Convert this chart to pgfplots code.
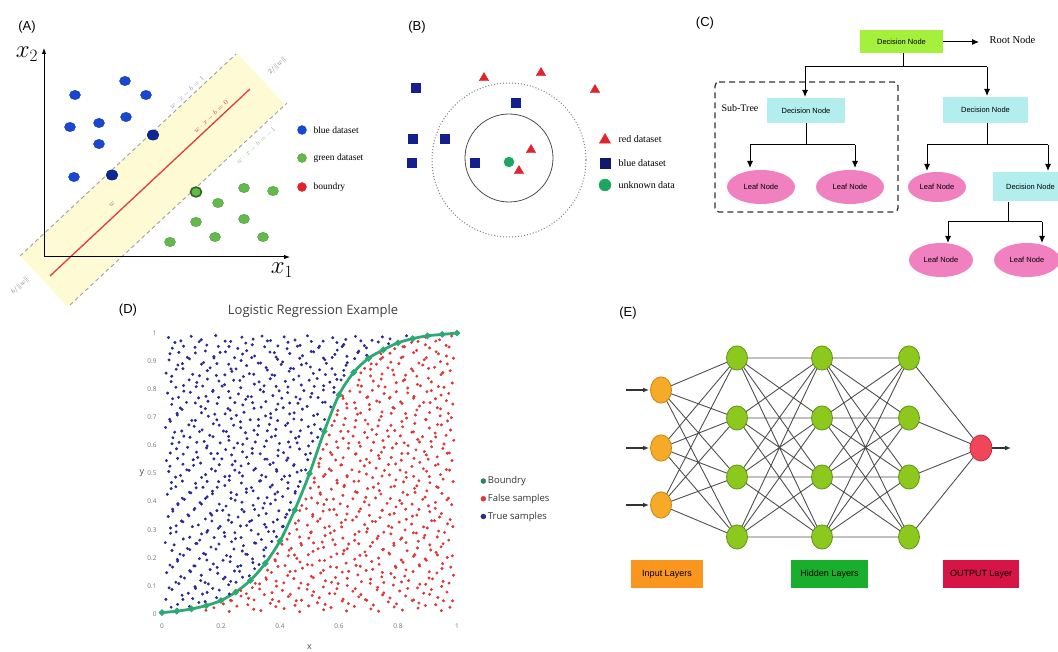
\documentclass[border=0pt]{standalone}
\usepackage{pgfplots}
\pgfplotsset{compat=1.18}
\usepackage{fontspec}
\setmainfont{Liberation Sans}
\newfontfamily\serifA{Liberation Serif}
\newfontfamily\osans{Open Sans}
\usetikzlibrary{arrows.meta,shapes.geometric}
\newcommand{\fs}[1]{\fontsize{#1}{#1}\selectfont}
\definecolor{blueA}{RGB}{25,70,210}
\definecolor{blueAd}{RGB}{15,40,150}
\definecolor{greenA}{RGB}{100,185,75}
\definecolor{greenAd}{RGB}{40,100,30}
\definecolor{redA}{RGB}{225,60,60}
\definecolor{bandY}{RGB}{253,250,212}
\definecolor{navyB}{RGB}{20,30,140}
\definecolor{redB}{RGB}{225,35,45}
\definecolor{greenB}{RGB}{30,165,95}
\definecolor{limeC}{RGB}{165,240,60}
\definecolor{cyanC}{RGB}{178,238,238}
\definecolor{pinkC}{RGB}{240,128,192}
\definecolor{orgE}{RGB}{245,170,40}
\definecolor{orgEd}{RGB}{205,130,20}
\definecolor{grnE}{RGB}{140,200,30}
\definecolor{grnEd}{RGB}{95,150,20}
\definecolor{redE}{RGB}{240,70,90}
\definecolor{redEd}{RGB}{200,40,60}
\definecolor{inBox}{RGB}{250,150,30}
\definecolor{hidBox}{RGB}{25,175,45}
\definecolor{outBox}{RGB}{215,20,70}
\definecolor{blueD}{RGB}{40,40,150}
\definecolor{redD}{RGB}{220,55,55}
\definecolor{greenD}{RGB}{45,170,115}
\definecolor{edgeE}{RGB}{80,80,80}
\begin{document}
\begin{tikzpicture}
%================ overlay axis in pixel coordinates =================
\begin{axis}[at={(0pt,0pt)}, anchor=south west, width=1058pt, height=652pt,
  scale only axis, xmin=0, xmax=1058, ymin=0, ymax=652, y dir=reverse,
  hide axis, clip=false, enlargelimits=false]
% ---------- panel labels
\node[font=\fs{13}] at (axis cs:27,27) {(A)};
\node[font=\fs{13}] at (axis cs:417,27) {(B)};
\node[font=\fs{13}] at (axis cs:705,23) {(C)};
\node[font=\fs{13}] at (axis cs:128,310) {(D)};
\node[font=\fs{13}] at (axis cs:628,313) {(E)};
% ---------- panel A
\addplot[fill=bandY, draw=none] coordinates {(20.3,255.9) (237.1,53.2) (284.9,104.4) (68.1,307.1)} -- cycle;
\addplot[gray!75, dash pattern=on 4pt off 3pt, line width=0.9pt] coordinates {(20,256) (236,54)};
\addplot[gray!75, dash pattern=on 4pt off 3pt, line width=0.9pt] coordinates {(70,305) (287,103)};
\addplot[redA, line width=1.3pt] coordinates {(50,276) (250,89)};
\addplot[black, line width=1pt, -{Latex[length=6pt]}] coordinates {(44,257) (44,48)};
\addplot[black, line width=1pt, -{Latex[length=6pt]}] coordinates {(44,257) (290,257)};
\node[font=\fs{24}] at (axis cs:27,54) {$x_2$};
\node[font=\fs{24}] at (axis cs:282,270) {$x_1$};
\node[rotate=43, font=\fs{7.5}, inner sep=0pt, text={rgb,255:red,140;green,150;blue,200}] at (axis cs:187,93) {$w\cdot x-b=1$};
\node[rotate=43, font=\fs{7.5}, inner sep=0pt, text=redA] at (axis cs:211,117) {$w\cdot x-b=0$};
\node[rotate=43, font=\fs{7.5}, inner sep=0pt, text={rgb,255:red,140;green,190;blue,140}] at (axis cs:256,146) {$w\cdot x-b=-1$};
\node[rotate=43, font=\fs{7}, inner sep=0pt, text=gray] at (axis cs:277,66) {$2/\|w\|$};
\node[rotate=43, font=\fs{7}, inner sep=0pt, text=gray] at (axis cs:20,286) {$b/\|w\|$};
\node[rotate=43, font=\fs{7}, inner sep=0pt, text=gray] at (axis cs:112,204) {$w$};
\addplot[only marks, mark=*, mark size=5.5pt, mark options={fill=blueA, draw=blueA!80!black, yscale=0.85}]
  coordinates {(125,81)(75,95)(146,95)(70,127)(99,123)(126,117)(99,144)(74,177)};
\addplot[only marks, mark=*, mark size=6pt, mark options={fill=blueAd, draw=blueAd!70!black, yscale=0.85}]
  coordinates {(153,135)(112,175)};
\addplot[only marks, mark=*, mark size=5.5pt, mark options={fill=greenA, draw=greenA!80!black, yscale=0.85}]
  coordinates {(244,188)(273,191)(218,203)(196,222)(244,219)(170,242)(215,237)(263,237)};
\addplot[only marks, mark=*, mark size=5.5pt, mark options={fill=greenA, draw=greenAd, line width=1.5pt, yscale=0.9}]
  coordinates {(196,192)};
\addplot[only marks, mark=*, mark size=4.5pt, mark options={fill=blueA, draw=blueA}] coordinates {(302,130)};
\addplot[only marks, mark=*, mark size=4.5pt, mark options={fill=greenA, draw=greenA!80!black}] coordinates {(302,158)};
\addplot[only marks, mark=*, mark size=4.5pt, mark options={fill=redB, draw=redB}] coordinates {(302,187)};
\node[anchor=west, font=\serifA\fs{9.5}] at (axis cs:310,130) {blue dataset};
\node[anchor=west, font=\serifA\fs{9.5}] at (axis cs:310,158) {green dataset};
\node[anchor=west, font=\serifA\fs{9.5}] at (axis cs:310,187) {boundry};
% ---------- panel B
\draw[gray!60!black, line width=0.8pt] (axis cs:509,158) circle [radius=44pt];
\draw[gray, dotted, line width=1pt] (axis cs:509,160) circle [radius=77pt];
\addplot[only marks, mark=triangle*, mark size=5.5pt, color=redB] coordinates {(484,78)(541,73)(595,90)(531,150)(519,171)};
\addplot[only marks, mark=square*, mark size=4.5pt, color=navyB] coordinates {(416,88)(516,103)(413,139)(445,139)(412,163)(475,163)};
\addplot[only marks, mark=*, mark size=5pt, color=greenB] coordinates {(509,162)};
\addplot[only marks, mark=triangle*, mark size=6.5pt, color=redB] coordinates {(605,140)};
\addplot[only marks, mark=square*, mark size=5pt, color=navyB!80!black] coordinates {(605,163)};
\addplot[only marks, mark=*, mark size=6pt, color=greenB] coordinates {(605,185)};
\node[anchor=west, font=\serifA\fs{10}] at (axis cs:615,139) {red dataset};
\node[anchor=west, font=\serifA\fs{10}] at (axis cs:615,163) {blue dataset};
\node[anchor=west, font=\serifA\fs{10}] at (axis cs:615,185) {unknown data};
% ---------- panel C
\addplot[black!80, dash pattern=on 6pt off 4pt, line width=1.3pt, rounded corners=4pt] coordinates {(715,82)(898,82)(898,212)(715,212)} -- cycle;
\addplot[black, line width=1pt] coordinates {(903,53) (903,67)};
\addplot[black, line width=1pt] coordinates {(805,67) (987,67)};
\addplot[black, line width=1pt, -{Latex[length=7pt,width=6pt]}] coordinates {(805,67) (805,97)};
\addplot[black, line width=1pt, -{Latex[length=7pt,width=6pt]}] coordinates {(987,67) (987,96)};
\addplot[black, line width=1pt, -{Latex[length=7pt,width=6pt]}] coordinates {(943,42) (979,42)};
\addplot[black, line width=1pt] coordinates {(806,123) (806,145)};
\addplot[black, line width=1pt] coordinates {(750,145) (855,145)};
\addplot[black, line width=1pt, -{Latex[length=7pt,width=6pt]}] coordinates {(750,145) (750,168)};
\addplot[black, line width=1pt, -{Latex[length=7pt,width=6pt]}] coordinates {(855,145) (855,168)};
\addplot[black, line width=1pt] coordinates {(987,123) (987,145)};
\addplot[black, line width=1pt] coordinates {(927,145) (1048,145)};
\addplot[black, line width=1pt, -{Latex[length=7pt,width=6pt]}] coordinates {(927,145) (927,171)};
\addplot[black, line width=1pt, -{Latex[length=7pt,width=6pt]}] coordinates {(1048,145) (1048,171)};
\addplot[black, line width=1pt] coordinates {(1008,202) (1008,222)};
\addplot[black, line width=1pt] coordinates {(948,222) (1042,222)};
\addplot[black, line width=1pt, -{Latex[length=7pt,width=6pt]}] coordinates {(948,222) (948,243)};
\addplot[black, line width=1pt, -{Latex[length=7pt,width=6pt]}] coordinates {(1042,222) (1042,243)};
\node[fill=limeC, minimum width=83pt, minimum height=23pt, inner sep=0pt, font=\fs{7.5}] at (axis cs:901.5,41.5) {Decision Node};
\node[anchor=west, font=\serifA\fs{10.5}] at (axis cs:986,40) {Root Node};
\node[fill=cyanC, minimum width=78pt, minimum height=25pt, inner sep=0pt, font=\fs{7.5}] at (axis cs:806,110.5) {Decision Node};
\node[fill=cyanC, minimum width=85pt, minimum height=26pt, inner sep=0pt, font=\fs{7.5}] at (axis cs:985.5,110) {Decision Node};
\node[fill=cyanC, minimum width=75pt, minimum height=29pt, inner sep=0pt, font=\fs{7.5}] at (axis cs:1030.5,187) {Decision Node};
\node[font=\serifA\fs{10}] at (axis cs:740,108) {Sub-Tree};
\node[ellipse, fill=pinkC, minimum width=68pt, minimum height=34pt, inner sep=0pt, font=\fs{7.5}] at (axis cs:761,187) {Leaf Node};
\node[ellipse, fill=pinkC, minimum width=68pt, minimum height=34pt, inner sep=0pt, font=\fs{7.5}] at (axis cs:850,187) {Leaf Node};
\node[ellipse, fill=pinkC, minimum width=58pt, minimum height=30pt, inner sep=0pt, font=\fs{7.5}] at (axis cs:937,187) {Leaf Node};
\node[ellipse, fill=pinkC, minimum width=64pt, minimum height=34pt, inner sep=0pt, font=\fs{7.5}] at (axis cs:941,260) {Leaf Node};
\node[ellipse, fill=pinkC, minimum width=66pt, minimum height=34pt, inner sep=0pt, font=\fs{7.5}] at (axis cs:1027,260) {Leaf Node};
% ---------- panel E
\addplot[edgeE, line width=0.9pt, line join=round] coordinates {
 (661,390)(737,358)(661,390)(737,418)(661,390)(737,477)(661,390)(737,537)
 (661,448)(737,358)(661,448)(737,418)(661,448)(737,477)(661,448)(737,537)
 (661,505)(737,358)(661,505)(737,418)(661,505)(737,477)(661,505)(737,537)};
\addplot[edgeE, line width=0.9pt, line join=round] coordinates {
 (737,358)(822,358)(737,358)(822,418)(737,358)(822,477)(737,358)(822,537)
 (737,418)(822,358)(737,418)(822,418)(737,418)(822,477)(737,418)(822,537)
 (737,477)(822,358)(737,477)(822,418)(737,477)(822,477)(737,477)(822,537)
 (737,537)(822,358)(737,537)(822,418)(737,537)(822,477)(737,537)(822,537)};
\addplot[edgeE, line width=0.9pt, line join=round] coordinates {
 (822,358)(909,358)(822,358)(909,418)(822,358)(909,477)(822,358)(909,537)
 (822,418)(909,358)(822,418)(909,418)(822,418)(909,477)(822,418)(909,537)
 (822,477)(909,358)(822,477)(909,418)(822,477)(909,477)(822,477)(909,537)
 (822,537)(909,358)(822,537)(909,418)(822,537)(909,477)(822,537)(909,537)};
\addplot[edgeE, line width=0.9pt, line join=round] coordinates {
 (909,358)(981,448)(909,418)(981,448)(909,477)(981,448)(909,537)};
\addplot[black!80, line width=1.4pt, -{Latex[length=6pt,width=5pt]}] coordinates {(626,390) (649,390)};
\addplot[black!80, line width=1.4pt, -{Latex[length=6pt,width=5pt]}] coordinates {(626,448) (649,448)};
\addplot[black!80, line width=1.4pt, -{Latex[length=6pt,width=5pt]}] coordinates {(626,505) (649,505)};
\addplot[black!80, line width=1.4pt, -{Latex[length=6pt,width=5pt]}] coordinates {(991,448) (1011,448)};
\addplot[only marks, mark=*, mark size=10.5pt, mark options={fill=orgE, draw=orgEd, line width=0.8pt, yscale=1.25}]
  coordinates {(661,390)(661,448)(661,505)};
\addplot[only marks, mark=*, mark size=10.5pt, mark options={fill=grnE, draw=grnEd, line width=0.8pt, yscale=1.15}]
  coordinates {(737,358)(737,418)(737,477)(737,537)(822,358)(822,418)(822,477)(822,537)(909,358)(909,418)(909,477)(909,537)};
\addplot[only marks, mark=*, mark size=11pt, mark options={fill=redE, draw=redEd, line width=0.8pt, yscale=1.18}]
  coordinates {(981,448)};
\node[fill=inBox, minimum width=72pt, minimum height=28pt, inner sep=0pt, font=\fs{9}] at (axis cs:667,574) {Input Layers};
\node[fill=hidBox, minimum width=77pt, minimum height=28pt, inner sep=0pt, font=\fs{9}] at (axis cs:829.5,574) {Hidden Layers};
\node[fill=outBox, minimum width=76pt, minimum height=28pt, inner sep=0pt, font=\fs{9}] at (axis cs:981,574) {OUTPUT Layer};
\end{axis}
%================ panel D =================
\begin{axis}[at={(162pt,38pt)}, anchor=south west, width=295pt, height=281pt,
  scale only axis, xmin=0, xmax=1, ymin=0, ymax=1, clip=false,
  axis line style={draw=none}, major tick length=0pt,
  xtick={0,0.2,0.4,0.6,0.8,1}, ytick={0,0.1,0.2,0.3,0.4,0.5,0.6,0.7,0.8,0.9,1},
  /pgf/number format/assume math mode=true,
  tick label style={font=\osans\fs{6.5}, text=black!55},
  xticklabel shift=6pt, yticklabel shift=2pt,
  title={Logistic Regression Example},
  title style={font=\osans\fs{13}, text=black!75, at={(axis description cs:0.512,1.057)}, anchor=center},
  xlabel={x}, ylabel={y},
  xlabel style={font=\osans\fs{9}, text=black!70, at={(axis description cs:0.5,-0.118)}, anchor=center},
  ylabel style={font=\osans\fs{9}, text=black!70, rotate=-90, at={(axis description cs:-0.068,0.5)}, anchor=center},
  legend style={at={(axis description cs:1.07,0.41)}, anchor=west, draw=none, fill=none,
    font=\osans\fs{9.5}, row sep=5pt, text=black!80},
  legend cell align=left]
\addlegendimage{only marks, mark=*, mark size=2.5pt, color=greenD!80!black}
\addlegendimage{only marks, mark=*, mark size=2.5pt, color=redD}
\addlegendimage{only marks, mark=*, mark size=2.5pt, color=blueD}
% true samples (grid 1)
\addplot[forget plot, only marks, mark=*, mark size=1.3pt, color=blueD, mark options={draw=none}] coordinates {
(0.031,0.024)(0.052,0.016)(0.093,0.027)
(0.013,0.052)(0.068,0.067)(0.104,0.055)(0.137,0.071)(0.185,0.058)
(0.024,0.093)(0.057,0.108)(0.112,0.097)(0.146,0.112)(0.172,0.091)(0.226,0.104)(0.251,0.113)
(0.016,0.147)(0.064,0.133)(0.097,0.151)(0.133,0.138)(0.189,0.145)(0.214,0.131)(0.263,0.152)(0.296,0.136)
(0.027,0.174)(0.053,0.188)(0.108,0.171)(0.152,0.192)(0.174,0.178)(0.231,0.186)(0.257,0.169)(0.308,0.183)(0.329,0.176)
(0.034,0.226)(0.061,0.213)(0.094,0.229)(0.141,0.216)(0.183,0.231)(0.219,0.208)(0.272,0.224)(0.289,0.212)(0.345,0.228)
(0.011,0.254)(0.072,0.267)(0.115,0.251)(0.128,0.263)(0.177,0.272)(0.236,0.257)(0.249,0.268)(0.314,0.253)(0.337,0.265)(0.372,0.258)
(0.029,0.306)(0.048,0.292)(0.103,0.311)(0.155,0.297)(0.191,0.305)(0.211,0.290)(0.266,0.313)(0.302,0.298)(0.353,0.309)(0.379,0.294)(0.411,0.312)
(0.021,0.347)(0.066,0.331)(0.091,0.349)(0.147,0.338)(0.169,0.352)(0.225,0.334)(0.258,0.345)(0.297,0.329)(0.328,0.351)(0.391,0.336)(0.418,0.344)
(0.036,0.373)(0.054,0.389)(0.111,0.376)(0.134,0.391)(0.186,0.368)(0.217,0.384)(0.271,0.372)(0.309,0.387)(0.342,0.377)(0.368,0.392)(0.432,0.370)
(0.018,0.426)(0.069,0.412)(0.098,0.431)(0.153,0.417)(0.171,0.428)(0.234,0.411)(0.253,0.425)(0.286,0.433)(0.356,0.414)(0.383,0.427)(0.409,0.418)(0.451,0.430)
(0.032,0.468)(0.047,0.453)(0.114,0.465)(0.139,0.451)(0.192,0.471)(0.213,0.457)(0.269,0.466)(0.303,0.450)(0.331,0.473)(0.374,0.459)(0.427,0.467)(0.462,0.454)
(0.023,0.507)(0.063,0.493)(0.092,0.511)(0.148,0.496)(0.181,0.509)(0.229,0.491)(0.262,0.503)(0.311,0.512)(0.338,0.494)(0.389,0.508)(0.415,0.490)(0.458,0.505)(0.487,0.513)
(0.015,0.546)(0.071,0.533)(0.106,0.549)(0.131,0.537)(0.176,0.552)(0.238,0.531)(0.248,0.544)(0.293,0.535)(0.349,0.551)(0.377,0.538)(0.423,0.547)(0.448,0.532)(0.494,0.549)
(0.028,0.573)(0.049,0.588)(0.117,0.576)(0.151,0.591)(0.188,0.571)(0.216,0.585)(0.273,0.577)(0.306,0.589)(0.333,0.570)(0.394,0.583)(0.412,0.574)(0.466,0.587)(0.503,0.572)
(0.037,0.627)(0.058,0.611)(0.095,0.629)(0.143,0.614)(0.173,0.631)(0.227,0.618)(0.256,0.608)(0.288,0.624)(0.354,0.616)(0.371,0.630)(0.429,0.612)(0.453,0.626)(0.511,0.615)(0.528,0.629)
(0.012,0.664)(0.067,0.651)(0.109,0.668)(0.136,0.655)(0.194,0.672)(0.218,0.649)(0.267,0.663)(0.312,0.654)(0.327,0.670)(0.386,0.657)(0.419,0.671)(0.469,0.652)(0.496,0.667)(0.537,0.658)
(0.026,0.693)(0.052,0.708)(0.101,0.689)(0.157,0.704)(0.179,0.711)(0.235,0.695)(0.252,0.707)(0.299,0.691)(0.351,0.705)(0.369,0.698)(0.433,0.712)(0.447,0.694)(0.514,0.706)(0.551,0.692)
(0.033,0.746)(0.062,0.733)(0.113,0.751)(0.132,0.738)(0.187,0.749)(0.224,0.731)(0.274,0.744)(0.307,0.752)(0.336,0.736)(0.393,0.747)(0.411,0.734)(0.461,0.750)(0.492,0.739)(0.544,0.753)(0.572,0.737)
(0.019,0.786)(0.056,0.771)(0.096,0.789)(0.149,0.775)(0.172,0.792)(0.231,0.769)(0.259,0.783)(0.291,0.774)(0.344,0.791)(0.376,0.777)(0.426,0.788)(0.454,0.772)(0.508,0.785)(0.529,0.770)(0.583,0.789)
(0.031,0.827)(0.073,0.813)(0.118,0.824)(0.138,0.811)(0.193,0.829)(0.212,0.816)(0.264,0.831)(0.313,0.818)(0.329,0.826)(0.387,0.810)(0.418,0.828)(0.472,0.815)(0.499,0.832)(0.548,0.812)(0.569,0.825)(0.607,0.833)
(0.014,0.857)(0.048,0.871)(0.104,0.853)(0.154,0.866)(0.184,0.849)(0.237,0.863)(0.251,0.872)(0.296,0.855)(0.357,0.868)(0.373,0.851)(0.431,0.864)(0.446,0.873)(0.513,0.856)(0.534,0.869)(0.587,0.852)(0.616,0.867)
(0.024,0.904)(0.069,0.891)(0.093,0.908)(0.141,0.895)(0.176,0.911)(0.226,0.889)(0.268,0.902)(0.304,0.912)(0.334,0.893)(0.392,0.906)(0.409,0.897)(0.467,0.910)(0.489,0.892)(0.552,0.905)(0.577,0.913)(0.628,0.894)(0.653,0.909)
(0.035,0.946)(0.057,0.931)(0.112,0.949)(0.147,0.936)(0.191,0.952)(0.215,0.933)(0.257,0.945)(0.287,0.937)(0.348,0.951)(0.381,0.930)(0.424,0.944)(0.459,0.953)(0.506,0.934)(0.531,0.948)(0.594,0.939)(0.611,0.952)(0.667,0.935)(0.693,0.947)
(0.022,0.984)(0.064,0.972)(0.099,0.988)(0.133,0.976)(0.182,0.991)(0.233,0.970)(0.271,0.985)(0.309,0.978)(0.339,0.989)(0.368,0.973)(0.414,0.986)(0.451,0.975)(0.493,0.990)(0.546,0.971)(0.579,0.983)(0.623,0.977)(0.656,0.988)(0.712,0.974)(0.747,0.986)(0.773,0.979)(0.829,0.990)
};
% true samples (grid 2)
\addplot[forget plot, only marks, mark=*, mark size=1.3pt, color=blueD, mark options={draw=none}] coordinates {
(0.053,0.034)(0.071,0.052)(0.125,0.041)(0.146,0.044)
(0.034,0.087)(0.089,0.074)(0.114,0.091)(0.153,0.077)(0.194,0.085)(0.228,0.071)
(0.047,0.113)(0.076,0.128)(0.131,0.119)(0.157,0.107)(0.208,0.125)(0.233,0.116)(0.273,0.131)
(0.036,0.167)(0.094,0.154)(0.112,0.171)(0.163,0.158)(0.187,0.166)(0.246,0.153)(0.267,0.172)(0.314,0.161)
(0.052,0.194)(0.073,0.209)(0.127,0.197)(0.148,0.212)(0.207,0.191)(0.232,0.204)(0.284,0.213)(0.307,0.196)(0.346,0.206)
(0.041,0.246)(0.086,0.233)(0.118,0.251)(0.166,0.238)(0.193,0.249)(0.244,0.231)(0.276,0.243)(0.318,0.252)(0.352,0.236)
(0.029,0.287)(0.094,0.273)(0.134,0.285)(0.152,0.291)(0.213,0.276)(0.247,0.289)(0.268,0.272)(0.326,0.284)(0.361,0.293)(0.388,0.275)
(0.048,0.314)(0.071,0.328)(0.123,0.317)(0.169,0.331)(0.197,0.312)(0.236,0.326)(0.287,0.315)(0.304,0.333)(0.348,0.319)(0.377,0.327)(0.408,0.311)
(0.037,0.366)(0.088,0.353)(0.109,0.371)(0.164,0.358)(0.206,0.369)(0.227,0.352)(0.278,0.364)(0.314,0.372)(0.353,0.357)(0.396,0.367)(0.423,0.355)
(0.054,0.393)(0.076,0.408)(0.129,0.396)(0.147,0.411)(0.194,0.391)(0.248,0.405)(0.271,0.398)(0.326,0.412)(0.347,0.394)(0.384,0.406)(0.436,0.397)
(0.031,0.446)(0.093,0.433)(0.116,0.449)(0.171,0.437)(0.187,0.451)(0.234,0.432)(0.286,0.445)(0.309,0.438)(0.367,0.452)(0.392,0.434)(0.427,0.447)(0.452,0.436)
(0.046,0.487)(0.069,0.473)(0.134,0.486)(0.153,0.472)(0.213,0.489)(0.228,0.476)(0.273,0.491)(0.334,0.474)(0.352,0.488)(0.406,0.479)(0.433,0.492)(0.468,0.471)
(0.027,0.526)(0.084,0.513)(0.107,0.529)(0.168,0.516)(0.194,0.531)(0.247,0.512)(0.268,0.527)(0.317,0.518)(0.366,0.532)(0.388,0.514)(0.446,0.528)(0.472,0.511)
(0.053,0.554)(0.072,0.569)(0.121,0.557)(0.166,0.571)(0.203,0.552)(0.236,0.566)(0.287,0.558)(0.306,0.572)(0.356,0.551)(0.393,0.563)(0.427,0.555)(0.487,0.568)
(0.034,0.606)(0.087,0.593)(0.118,0.611)(0.153,0.598)(0.197,0.609)(0.244,0.591)(0.274,0.604)(0.316,0.612)(0.347,0.596)(0.398,0.607)(0.434,0.594)(0.458,0.609)(0.497,0.598)
(0.043,0.647)(0.074,0.633)(0.127,0.649)(0.162,0.636)(0.208,0.651)(0.226,0.632)(0.283,0.645)(0.324,0.638)(0.357,0.652)(0.384,0.634)(0.437,0.648)(0.464,0.631)(0.506,0.644)
(0.028,0.686)(0.091,0.673)(0.113,0.689)(0.174,0.677)(0.186,0.691)(0.243,0.672)(0.266,0.684)(0.327,0.692)(0.364,0.675)(0.392,0.688)(0.426,0.679)(0.473,0.691)(0.517,0.674)
(0.051,0.714)(0.068,0.728)(0.134,0.716)(0.147,0.731)(0.214,0.712)(0.231,0.725)(0.278,0.718)(0.312,0.732)(0.368,0.713)(0.387,0.727)(0.448,0.716)(0.476,0.729)(0.527,0.711)
(0.036,0.766)(0.083,0.753)(0.124,0.769)(0.156,0.757)(0.192,0.771)(0.247,0.752)(0.284,0.764)(0.303,0.773)(0.352,0.756)(0.406,0.768)(0.433,0.751)(0.468,0.765)(0.504,0.772)(0.553,0.754)
(0.047,0.807)(0.074,0.793)(0.116,0.809)(0.173,0.796)(0.204,0.811)(0.226,0.792)(0.267,0.805)(0.333,0.798)(0.346,0.812)(0.397,0.794)(0.427,0.808)(0.481,0.795)(0.516,0.810)(0.547,0.797)(0.583,0.806)
(0.033,0.846)(0.092,0.833)(0.127,0.848)(0.154,0.836)(0.213,0.851)(0.243,0.832)(0.276,0.845)(0.311,0.853)(0.367,0.837)(0.382,0.849)(0.446,0.834)(0.464,0.847)(0.526,0.838)(0.554,0.852)(0.593,0.835)(0.617,0.849)
(0.054,0.886)(0.071,0.873)(0.134,0.889)(0.163,0.876)(0.186,0.891)(0.234,0.872)(0.287,0.884)(0.326,0.893)(0.353,0.877)(0.404,0.888)(0.436,0.874)(0.473,0.887)(0.503,0.879)(0.557,0.892)(0.576,0.873)(0.624,0.885)
(0.027,0.926)(0.086,0.913)(0.113,0.929)(0.176,0.916)(0.197,0.931)(0.246,0.912)(0.273,0.925)(0.314,0.918)(0.366,0.932)(0.387,0.914)(0.433,0.927)(0.476,0.919)(0.514,0.933)(0.547,0.911)(0.586,0.924)(0.627,0.917)(0.664,0.930)(0.694,0.921)
(0.044,0.966)(0.073,0.953)(0.126,0.969)(0.152,0.957)(0.214,0.971)(0.227,0.952)(0.284,0.964)(0.306,0.958)(0.357,0.972)(0.393,0.954)(0.427,0.967)(0.468,0.956)(0.506,0.970)(0.534,0.953)(0.593,0.966)(0.616,0.959)(0.674,0.972)(0.686,0.955)(0.733,0.968)(0.768,0.962)
};
% false samples (grid 1)
\addplot[forget plot, only marks, mark=*, mark size=1.3pt, color=redD, mark options={draw=none}] coordinates {
(0.149,0.013)(0.176,0.022)(0.228,0.009)(0.254,0.028)(0.311,0.017)(0.335,0.012)(0.386,0.026)(0.414,0.019)(0.467,0.008)(0.497,0.029)(0.548,0.015)(0.573,0.023)(0.626,0.011)(0.652,0.027)(0.708,0.018)(0.734,0.010)(0.787,0.025)(0.815,0.014)(0.868,0.021)(0.893,0.030)(0.947,0.012)(0.976,0.024)
(0.232,0.049)(0.268,0.064)(0.293,0.056)(0.347,0.069)(0.374,0.051)(0.428,0.062)(0.455,0.047)(0.509,0.066)(0.533,0.058)(0.586,0.072)(0.614,0.053)(0.667,0.061)(0.694,0.049)(0.748,0.068)(0.773,0.057)(0.826,0.064)(0.853,0.050)(0.907,0.070)(0.935,0.059)(0.985,0.047)
(0.306,0.094)(0.331,0.107)(0.388,0.099)(0.413,0.111)(0.464,0.092)(0.495,0.105)(0.547,0.096)(0.575,0.113)(0.628,0.101)(0.655,0.090)(0.706,0.109)(0.731,0.095)(0.784,0.103)(0.812,0.114)(0.866,0.093)(0.894,0.106)(0.948,0.098)(0.973,0.110)
(0.352,0.129)(0.371,0.148)(0.426,0.137)(0.452,0.153)(0.506,0.134)(0.538,0.146)(0.588,0.130)(0.611,0.149)(0.664,0.139)(0.692,0.155)(0.745,0.132)(0.776,0.144)(0.823,0.135)(0.851,0.151)(0.905,0.128)(0.932,0.146)(0.988,0.138)
(0.384,0.189)(0.417,0.172)(0.468,0.185)(0.493,0.176)(0.551,0.190)(0.571,0.168)(0.624,0.181)(0.658,0.173)(0.711,0.187)(0.736,0.177)(0.791,0.170)(0.817,0.184)(0.872,0.175)(0.896,0.191)(0.951,0.179)(0.979,0.167)
(0.392,0.215)(0.431,0.227)(0.449,0.210)(0.512,0.223)(0.529,0.232)(0.593,0.214)(0.617,0.226)(0.671,0.209)(0.688,0.221)(0.751,0.230)(0.769,0.217)(0.831,0.225)(0.857,0.211)(0.911,0.228)(0.929,0.219)(0.984,0.207)
(0.424,0.266)(0.471,0.251)(0.498,0.270)(0.543,0.256)(0.579,0.264)(0.633,0.249)(0.653,0.262)(0.714,0.255)(0.729,0.269)(0.786,0.252)(0.809,0.266)(0.869,0.259)(0.888,0.271)(0.953,0.250)(0.972,0.263)
(0.457,0.301)(0.504,0.289)(0.552,0.307)(0.584,0.296)(0.609,0.310)(0.668,0.293)(0.697,0.304)(0.752,0.291)(0.779,0.308)(0.824,0.299)(0.862,0.288)(0.899,0.306)(0.938,0.295)(0.986,0.311)
(0.463,0.332)(0.511,0.348)(0.536,0.339)(0.592,0.353)(0.622,0.335)(0.659,0.346)(0.713,0.330)(0.739,0.343)(0.772,0.354)(0.828,0.337)(0.849,0.348)(0.914,0.332)(0.941,0.345)(0.977,0.336)
(0.474,0.386)(0.489,0.375)(0.549,0.390)(0.568,0.371)(0.629,0.383)(0.673,0.374)(0.702,0.388)(0.747,0.369)(0.793,0.381)(0.813,0.393)(0.871,0.372)(0.903,0.385)(0.926,0.376)(0.982,0.389)
(0.507,0.413)(0.537,0.426)(0.581,0.409)(0.613,0.422)(0.662,0.432)(0.691,0.415)(0.742,0.427)(0.774,0.411)(0.832,0.424)(0.858,0.433)(0.892,0.416)(0.949,0.429)(0.971,0.412)
(0.516,0.469)(0.531,0.452)(0.594,0.466)(0.618,0.458)(0.651,0.472)(0.717,0.451)(0.733,0.464)(0.788,0.455)(0.819,0.470)(0.864,0.456)(0.908,0.467)(0.931,0.453)(0.987,0.471)
(0.553,0.497)(0.574,0.510)(0.627,0.492)(0.669,0.506)(0.693,0.498)(0.754,0.511)(0.771,0.495)(0.827,0.504)(0.853,0.490)(0.897,0.508)(0.944,0.496)(0.975,0.512)
(0.532,0.536)(0.589,0.548)(0.609,0.531)(0.672,0.545)(0.704,0.539)(0.737,0.553)(0.792,0.534)(0.811,0.547)(0.874,0.540)(0.902,0.551)(0.936,0.533)(0.983,0.546)
(0.546,0.586)(0.571,0.575)(0.632,0.590)(0.656,0.569)(0.709,0.582)(0.744,0.576)(0.781,0.591)(0.834,0.571)(0.861,0.584)(0.889,0.578)(0.952,0.589)(0.974,0.573)
(0.591,0.613)(0.614,0.625)(0.668,0.610)(0.696,0.628)(0.749,0.617)(0.768,0.632)(0.821,0.609)(0.867,0.621)(0.912,0.614)(0.928,0.630)(0.989,0.618)
(0.576,0.671)(0.631,0.650)(0.654,0.665)(0.712,0.656)(0.732,0.669)(0.789,0.653)(0.816,0.666)(0.852,0.648)(0.906,0.662)(0.947,0.673)(0.978,0.655)
(0.593,0.709)(0.621,0.696)(0.663,0.711)(0.689,0.690)(0.743,0.703)(0.777,0.714)(0.829,0.697)(0.859,0.708)(0.895,0.691)(0.943,0.705)(0.981,0.699)
(0.626,0.748)(0.657,0.732)(0.703,0.745)(0.738,0.754)(0.783,0.735)(0.814,0.749)(0.873,0.740)(0.909,0.752)(0.933,0.734)(0.986,0.747)
(0.612,0.776)(0.671,0.790)(0.698,0.773)(0.753,0.784)(0.771,0.768)(0.833,0.787)(0.854,0.774)(0.898,0.791)(0.946,0.779)(0.972,0.785)
(0.664,0.814)(0.716,0.829)(0.734,0.811)(0.794,0.823)(0.818,0.830)(0.866,0.817)(0.913,0.826)(0.937,0.809)(0.984,0.822)
(0.674,0.858)(0.707,0.871)(0.746,0.854)(0.782,0.868)(0.826,0.850)(0.851,0.865)(0.904,0.874)(0.952,0.859)(0.977,0.866)
(0.709,0.890)(0.741,0.907)(0.776,0.896)(0.811,0.912)(0.871,0.893)(0.889,0.905)(0.944,0.898)(0.988,0.910)
(0.742,0.926)(0.789,0.944)(0.822,0.951)(0.863,0.938)(0.907,0.947)(0.929,0.933)(0.973,0.950)
(0.868,0.970)(0.894,0.985)(0.941,0.976)(0.982,0.989)
};
% false samples (grid 2)
\addplot[forget plot, only marks, mark=*, mark size=1.3pt, color=redD, mark options={draw=none}] coordinates {
(0.208,0.036)(0.236,0.047)(0.291,0.033)(0.312,0.050)(0.367,0.038)(0.396,0.045)(0.451,0.031)(0.473,0.049)(0.527,0.040)(0.553,0.034)(0.611,0.046)(0.632,0.037)(0.689,0.051)(0.716,0.032)(0.767,0.043)(0.795,0.036)(0.848,0.048)(0.871,0.039)(0.928,0.033)(0.954,0.047)
(0.267,0.083)(0.286,0.072)(0.331,0.089)(0.373,0.076)(0.408,0.084)(0.435,0.070)(0.492,0.088)(0.514,0.079)(0.568,0.073)(0.593,0.090)(0.647,0.081)(0.674,0.069)(0.729,0.086)(0.752,0.075)(0.806,0.082)(0.833,0.091)(0.887,0.074)(0.913,0.087)(0.966,0.078)
(0.316,0.109)(0.354,0.123)(0.387,0.117)(0.447,0.126)(0.471,0.110)(0.513,0.129)(0.554,0.118)(0.597,0.108)(0.628,0.127)(0.676,0.115)(0.707,0.124)(0.752,0.112)(0.788,0.130)(0.836,0.119)(0.874,0.106)(0.917,0.125)(0.953,0.116)
(0.358,0.156)(0.393,0.169)(0.434,0.151)(0.476,0.163)(0.509,0.174)(0.547,0.155)(0.592,0.166)(0.633,0.152)(0.672,0.170)(0.714,0.159)(0.747,0.148)(0.793,0.165)(0.827,0.157)(0.873,0.171)(0.906,0.150)(0.949,0.162)
(0.383,0.193)(0.428,0.207)(0.457,0.198)(0.496,0.211)(0.534,0.190)(0.573,0.203)(0.614,0.214)(0.653,0.195)(0.692,0.208)(0.734,0.199)(0.772,0.213)(0.811,0.192)(0.853,0.205)(0.892,0.196)(0.934,0.210)(0.967,0.201)
(0.407,0.248)(0.438,0.234)(0.473,0.245)(0.514,0.253)(0.548,0.237)(0.587,0.247)(0.628,0.232)(0.667,0.250)(0.706,0.241)(0.748,0.229)(0.786,0.244)(0.827,0.254)(0.866,0.235)(0.908,0.246)(0.946,0.239)
(0.432,0.286)(0.467,0.274)(0.506,0.292)(0.553,0.279)(0.571,0.288)(0.613,0.270)(0.654,0.283)(0.694,0.292)(0.733,0.277)(0.776,0.285)(0.813,0.271)(0.852,0.289)(0.891,0.280)(0.933,0.274)(0.958,0.290)
(0.452,0.323)(0.493,0.316)(0.528,0.330)(0.567,0.312)(0.608,0.325)(0.646,0.334)(0.687,0.318)(0.724,0.329)(0.768,0.313)(0.804,0.327)(0.846,0.320)(0.887,0.310)(0.924,0.332)(0.968,0.321)
(0.467,0.368)(0.511,0.354)(0.546,0.366)(0.583,0.372)(0.627,0.356)(0.668,0.365)(0.703,0.351)(0.746,0.369)(0.787,0.358)(0.826,0.373)(0.864,0.352)(0.908,0.364)(0.947,0.357)
(0.488,0.409)(0.527,0.395)(0.558,0.407)(0.604,0.392)(0.647,0.410)(0.686,0.399)(0.724,0.413)(0.763,0.394)(0.806,0.404)(0.848,0.391)(0.884,0.408)(0.927,0.397)(0.966,0.406)
(0.503,0.448)(0.536,0.431)(0.574,0.444)(0.617,0.453)(0.656,0.435)(0.697,0.446)(0.737,0.439)(0.776,0.452)(0.817,0.433)(0.856,0.447)(0.898,0.438)(0.936,0.450)
(0.516,0.484)(0.547,0.490)(0.593,0.476)(0.628,0.488)(0.667,0.473)(0.714,0.485)(0.746,0.491)(0.793,0.477)(0.828,0.486)(0.871,0.474)(0.906,0.489)(0.953,0.480)
(0.532,0.524)(0.567,0.516)(0.606,0.530)(0.644,0.513)(0.686,0.527)(0.726,0.519)(0.768,0.532)(0.807,0.512)(0.847,0.525)(0.886,0.517)(0.927,0.529)(0.964,0.514)
(0.537,0.553)(0.576,0.567)(0.614,0.556)(0.658,0.570)(0.693,0.551)(0.734,0.564)(0.777,0.557)(0.813,0.571)(0.854,0.554)(0.896,0.566)(0.933,0.559)(0.967,0.572)
(0.558,0.604)(0.596,0.592)(0.633,0.608)(0.672,0.597)(0.717,0.611)(0.753,0.593)(0.794,0.606)(0.834,0.599)(0.873,0.612)(0.914,0.595)(0.956,0.605)
(0.567,0.637)(0.606,0.650)(0.648,0.633)(0.687,0.646)(0.727,0.639)(0.764,0.652)(0.808,0.634)(0.847,0.647)(0.883,0.631)(0.926,0.644)(0.963,0.636)
(0.584,0.687)(0.616,0.673)(0.657,0.689)(0.698,0.676)(0.736,0.690)(0.776,0.671)(0.813,0.685)(0.857,0.678)(0.894,0.692)(0.934,0.674)(0.968,0.687)
(0.596,0.724)(0.627,0.733)(0.673,0.715)(0.704,0.728)(0.746,0.719)(0.787,0.732)(0.826,0.713)(0.864,0.726)(0.907,0.717)(0.944,0.730)(0.971,0.714)
(0.614,0.767)(0.653,0.752)(0.694,0.770)(0.728,0.758)(0.773,0.771)(0.809,0.755)(0.853,0.768)(0.887,0.753)(0.927,0.766)(0.964,0.759)
(0.637,0.793)(0.676,0.811)(0.713,0.796)(0.756,0.808)(0.794,0.791)(0.833,0.804)(0.876,0.812)(0.913,0.795)(0.956,0.807)
(0.668,0.833)(0.707,0.847)(0.743,0.836)(0.786,0.851)(0.823,0.834)(0.864,0.846)(0.903,0.839)(0.946,0.852)
(0.687,0.874)(0.727,0.889)(0.766,0.876)(0.803,0.891)(0.846,0.872)(0.884,0.886)(0.924,0.878)(0.967,0.890)
(0.748,0.913)(0.773,0.928)(0.817,0.915)(0.853,0.930)(0.896,0.912)(0.937,0.926)(0.964,0.918)
(0.817,0.951)(0.846,0.967)(0.893,0.958)(0.928,0.971)(0.963,0.956)
};
\addplot[forget plot, greenD, line width=2.8pt, smooth, mark=*, mark size=1.5pt, mark options={fill=greenD!60!black, draw=none}] coordinates {
(0,0.005)(0.05,0.01)(0.1,0.018)(0.15,0.03)(0.2,0.048)(0.25,0.078)(0.3,0.12)(0.35,0.18)(0.4,0.26)(0.45,0.37)(0.5,0.5)(0.55,0.65)(0.6,0.78)(0.65,0.86)(0.7,0.91)(0.75,0.94)(0.8,0.965)(0.85,0.98)(0.9,0.99)(0.95,0.995)(1,1)
};
\legend{Boundry, False samples, True samples}
\end{axis}
\pgfresetboundingbox
\useasboundingbox (0pt,0pt) rectangle (1058pt,652pt);
\end{tikzpicture}
\end{document}
